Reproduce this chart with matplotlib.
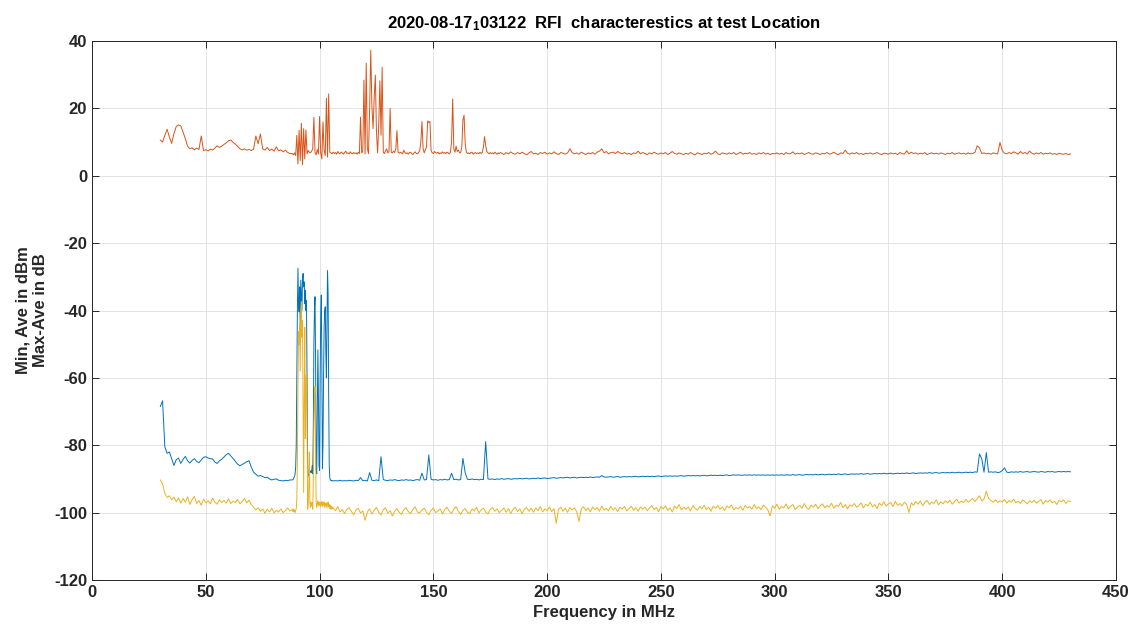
import numpy as np
import matplotlib
matplotlib.use("Agg")
import matplotlib.pyplot as plt

plt.rcParams["font.family"] = "Liberation Sans"
plt.rcParams["font.weight"] = "bold"
plt.rcParams["axes.unicode_minus"] = False
plt.rcParams["mathtext.fontset"] = "custom"
plt.rcParams["mathtext.rm"] = "Liberation Sans:bold"
plt.rcParams["mathtext.it"] = "Liberation Sans:bold"
plt.rcParams["mathtext.bf"] = "Liberation Sans:bold"
plt.rcParams["mathtext.default"] = "rm"

TITLE = "2020-08-17$_{1}$03122  RFI  characterestics at test Location"

# --- spectrum sweeps, each stored as segments (start MHz, step MHz, levels) ---

# average level, dBm
ave_low = [
    -68.5, -66.8, -80.5, -82.4, -82.0, -84.0, -86.0, -84.3, -83.8, -85.4,
    -84.2, -83.3, -84.6, -85.3, -84.5, -84.0, -84.8, -85.2, -84.4, -83.6,
    -83.4, -83.8, -84.0, -84.1, -85.0, -85.4, -84.6, -84.2, -83.5, -82.8,
    -82.4, -83.2, -83.9, -84.8, -85.6, -86.1, -85.7, -85.3, -84.9, -84.6,
    -86.5, -88.0, -88.6, -89.2, -89.0, -89.3, -89.6, -89.5, -90.0, -90.3,
    -90.1, -90.0, -90.4, -90.5, -90.6, -90.4, -90.5, -90.3,
]
ave_fm = [
    -90.3, -90.2, -90.0, -89.6, -89.2, -88.5, -86.5, -80.0,
    -60.0, -40.0, -27.5, -38.0, -40.4, -33.0, -45.0, -31.0,
    -35.4, -40.0, -31.0, -29.0, -33.0, -31.5, -38.0, -34.0,
    -40.0, -37.0, -60.0, -85.0, -88.8, -89.2, -88.6, -87.8,
    -88.0, -87.5, -88.2, -86.0, -88.5, -75.0, -50.0, -40.0,
    -35.9, -55.0, -87.0, -88.5, -70.0, -51.7, -65.0, -86.0,
    -87.5, -60.0, -42.0, -35.4, -55.0, -87.0, -80.0, -60.0,
    -45.0, -40.0, -38.9, -52.0, -60.0, -45.0, -28.2, -35.0,
    -65.0, -86.0, -89.8, -90.2, -90.5, -90.4, -90.6, -90.5,
]
ave_high = [
    -90.6, -90.5, -90.6, -90.4, -90.6, -90.5, -90.6, -90.4, -90.5, -90.6,
    -90.4, -90.5, -89.6, -90.5, -90.4, -90.6, -88.1, -90.4, -90.5, -90.3,
    -90.5, -83.4, -90.2, -90.4, -90.5, -90.3, -90.4, -90.2, -90.4, -90.5,
    -90.3, -90.4, -90.2, -90.4, -90.3, -90.5, -90.3, -90.2, -90.4, -88.3,
    -90.3, -90.2, -82.9, -90.1, -90.3, -90.2, -90.4, -90.2, -90.3, -90.1,
    -90.3, -90.2, -88.3, -90.2, -90.1, -90.3, -90.2, -83.9, -88.2, -90.1,
    -90.2, -90.0, -90.2, -90.1, -90.3, -90.1, -90.2, -78.9, -90.0, -90.1,
    -90.0, -90.2, -90.0, -90.1, -89.9, -90.1, -90.0, -89.9, -90.1, -90.0,
    -89.9, -90.0, -89.8, -90.0, -89.9, -89.8, -90.0, -89.9, -89.8, -89.9,
    -89.7, -89.9, -89.8, -89.7, -89.9, -89.8, -89.7, -89.6, -89.8, -89.7,
    -89.6, -89.7, -89.6, -89.5, -89.7, -89.6, -89.5, -89.7, -89.6, -89.5,
    -89.6, -89.5, -89.6, -89.4, -89.6, -89.5, -89.4, -89.5, -89.0, -89.4,
    -89.5, -89.4, -89.3, -89.5, -89.4, -89.3, -89.5, -89.4, -89.3, -89.4,
    -89.3, -89.4, -89.3, -89.2, -89.4, -89.3, -89.2, -89.3, -89.2, -89.3,
    -89.2, -89.3, -89.2, -89.1, -89.3, -89.2, -89.1, -89.2, -89.1, -89.2,
    -89.1, -89.2, -89.1, -89.0, -89.2, -89.1, -89.0, -89.1, -89.0, -89.1,
    -89.0, -89.1, -89.0, -88.9, -89.1, -89.0, -88.9, -89.0, -88.9, -89.0,
    -88.9, -89.0, -88.9, -88.8, -89.0, -88.9, -88.8, -88.9, -88.8, -88.9,
    -88.9, -88.8, -88.9, -88.8, -88.9, -88.8, -88.9, -88.8, -88.9, -88.8,
    -88.9, -88.8, -88.9, -88.8, -88.9, -88.8, -88.9, -88.8, -88.9, -88.8,
    -88.8, -88.9, -88.7, -88.9, -88.8, -88.7, -88.9, -88.8, -88.7, -88.8,
    -88.7, -88.8, -88.6, -88.8, -88.7, -88.6, -88.8, -88.7, -88.6, -88.7,
    -88.6, -88.7, -88.5, -88.7, -88.6, -88.5, -88.7, -88.6, -88.5, -88.6,
    -88.5, -88.6, -88.4, -88.6, -88.5, -88.4, -88.6, -88.5, -88.4, -88.5,
    -88.4, -88.5, -88.3, -88.5, -88.4, -88.3, -88.5, -88.4, -88.3, -88.4,
    -88.3, -88.4, -88.2, -88.4, -88.3, -88.2, -88.4, -88.3, -88.2, -88.3,
    -88.2, -88.3, -88.1, -88.3, -88.2, -88.1, -88.3, -88.2, -88.1, -88.2,
    -88.1, -88.2, -88.0, -88.2, -88.1, -88.0, -88.2, -88.1, -88.0, -88.1,
    -88.0, -88.1, -87.9, -88.0, -82.6, -84.0, -88.0, -82.2, -88.0, -87.9,
    -88.0, -87.9, -88.1, -88.0, -87.5, -86.7, -88.0, -88.1, -87.9, -88.0,
    -87.9, -88.0, -87.8, -88.0, -87.9, -87.8, -88.0, -87.9, -87.8, -87.9,
    -88.0, -87.8, -87.9, -88.0, -87.8, -87.9, -87.8, -88.0, -87.9, -87.8,
    -87.9, -87.8, -87.9, -87.8, -87.9,
]

# max minus average, dB
maxave_low = [
    10.6, 10.0, 12.0, 13.8, 11.5, 9.6, 12.5, 14.6, 15.1, 14.8,
    13.0, 11.0, 8.8, 8.0, 8.3, 7.7, 8.2, 7.8, 11.8, 7.5,
    7.7, 7.4, 7.9, 7.6, 8.2, 8.9, 8.4, 8.8, 9.3, 9.8,
    10.4, 10.6, 9.9, 9.4, 8.7, 8.0, 7.7, 8.0, 7.6, 7.8,
    7.5, 7.9, 11.8, 9.5, 12.4, 8.0, 7.6, 8.4, 7.5, 7.9,
    7.3, 8.6, 7.4, 7.7, 7.1, 7.6, 6.9, 6.6,
]
maxave_fm = [
    6.6, 6.2, 6.8, 6.0, 12.0, 3.5, 13.5, 4.5, 15.6, 3.3,
    14.0, 5.0, 13.6, 6.5, 7.5, 7.0, 6.8, 7.3, 8.0, 17.4,
    7.0, 6.2, 7.8, 6.5, 17.6, 6.8, 5.0, 16.0, 7.5, 6.0,
    23.0, 5.5, 24.3, 7.0, 6.8, 6.5, 7.0, 6.6, 6.9, 6.4,
    7.2, 6.7, 6.5, 7.0, 6.8, 6.4, 6.9, 7.3, 6.6, 6.8,
    6.5, 7.1, 6.7, 6.5, 6.9, 6.6, 6.8, 6.4, 7.0, 6.6,
    17.4, 6.8, 7.2, 28.4, 6.5, 33.4, 8.0, 6.6, 20.0, 37.3,
    20.5, 14.0, 23.0, 29.9, 13.0, 6.8, 15.0, 28.2, 12.0, 32.2,
    7.0, 6.6, 7.4, 8.0, 6.8, 7.2, 20.0, 7.0, 6.8, 7.3,
    6.9, 8.0, 13.4, 7.0, 6.7, 7.0, 6.8, 6.5, 7.6, 6.9,
    6.6, 6.8, 6.4, 6.9, 7.0, 6.5, 6.3, 6.8, 7.1, 6.6,
    6.5, 6.9, 7.4, 10.0, 16.1, 8.0, 6.8, 7.8, 8.5, 16.3,
    15.8, 16.1, 7.5, 6.8, 6.6, 7.2, 6.9, 6.7, 7.0, 6.5,
    6.8, 6.6, 7.1, 6.7, 6.9, 6.6, 7.0, 6.8, 6.5, 7.0,
    10.0, 22.8, 8.0, 7.0, 8.8, 7.2, 7.6, 6.8, 6.9, 8.5,
    16.5, 18.0, 9.5, 7.0, 6.6, 6.8, 6.5, 6.9, 7.0, 6.4,
    6.7, 6.9, 6.6, 6.8, 6.5, 7.0, 6.6, 6.9, 8.5, 11.6,
    9.0, 7.2, 6.8, 6.5, 6.9, 6.6, 6.8, 6.5, 7.0, 6.7,
    6.4, 6.8, 6.6, 6.9,
]
maxave_high = [
    6.7, 6.3, 6.9, 6.5, 7.1, 6.6, 6.4, 6.9, 6.5, 7.0,
    6.6, 6.2, 6.8, 7.2, 6.5, 6.7, 6.3, 6.9, 6.6, 7.0,
    6.4, 6.8, 6.5, 7.1, 6.6, 6.3, 6.9, 6.7, 6.4, 6.8,
    8.0, 6.9, 6.5, 6.8, 6.4, 7.0, 6.6, 6.3, 6.8, 6.5,
    6.9, 6.4, 7.0, 7.3, 8.0, 6.8, 7.2, 6.5, 6.9, 7.0,
    6.6, 7.2, 6.8, 6.5, 6.9, 6.4, 6.7, 6.3, 6.8, 6.6,
    7.3, 6.5, 6.9, 6.6, 6.3, 6.8, 6.5, 7.0, 6.6, 6.4,
    6.8, 6.5, 6.9, 6.3, 6.7, 7.2, 6.6, 6.4, 6.8, 6.5,
    6.3, 6.7, 6.4, 6.9, 6.5, 6.2, 6.8, 6.6, 6.3, 6.7,
    6.5, 6.9, 6.4, 6.7, 7.3, 6.5, 6.3, 6.8, 6.6, 6.4,
    6.8, 6.5, 6.9, 6.3, 6.6, 7.0, 6.4, 6.7, 6.5, 6.9,
    6.4, 6.6, 6.3, 6.8, 6.5, 6.9, 6.4, 6.7, 6.3, 6.6,
    6.5, 6.8, 6.4, 6.7, 6.3, 6.9, 6.5, 6.6, 7.1, 6.4,
    6.7, 6.5, 6.8, 6.3, 6.6, 6.9, 6.5, 6.4, 6.8, 6.6,
    6.3, 6.7, 6.5, 6.9, 6.4, 6.6, 7.0, 6.5, 6.3, 6.8,
    6.6, 7.6, 6.7, 6.4, 6.8, 6.5, 6.9, 6.4, 6.6, 6.3,
    6.7, 6.5, 6.8, 6.4, 6.6, 6.9, 6.5, 6.3, 6.7, 6.6,
    6.4, 6.8, 6.5, 6.7, 6.3, 6.9, 6.6, 6.4, 7.4, 6.5,
    7.0, 6.6, 6.8, 6.4, 6.7, 6.5, 6.9, 6.3, 6.6, 6.8,
    6.5, 6.7, 6.4, 6.8, 6.6, 6.3, 6.7, 6.5, 6.9, 6.4,
    6.6, 6.8, 6.5, 6.7, 6.4, 6.8, 6.5, 6.6, 6.9, 8.9,
    8.3, 6.6, 6.8, 6.5, 6.7, 6.4, 6.8, 6.6, 6.5, 9.9,
    7.5, 6.7, 6.5, 6.9, 6.6, 7.1, 6.8, 6.4, 7.2, 6.6,
    6.9, 6.5, 7.3, 6.7, 6.4, 6.8, 6.5, 6.9, 6.4, 6.7,
    6.5, 6.8, 6.4, 6.6, 6.3, 6.7, 6.5, 6.4, 6.6, 6.3,
    6.5,
]

# minimum level, dBm
min_low = [
    -90.3, -91.5, -94.3, -95.5, -95.0, -96.2, -95.4, -96.8, -95.6, -97.2,
    -95.8, -96.9, -95.3, -97.6, -96.1, -95.2, -97.3, -96.4, -97.8, -96.0,
    -97.1, -96.5, -97.4, -95.7, -96.9, -97.5, -96.2, -97.0, -96.4, -97.2,
    -95.9, -97.3, -96.6, -97.0, -96.1, -97.4, -96.7, -95.8, -97.1, -96.3,
    -97.6, -98.4, -99.2, -98.5, -99.6, -98.9, -100.2, -99.0, -99.8, -98.7,
    -100.1, -99.3, -99.8, -98.9, -100.0, -99.4, -98.6, -99.5,
]
min_fm = [
    -99.1, -99.8, -98.9, -99.6, -99.2, -100.0, -99.4, -98.8,
    -96.0, -85.0, -62.0, -46.3, -50.0, -44.0, -58.0, -40.0,
    -37.4, -48.0, -43.0, -70.0, -94.0, -66.0, -45.0, -78.0,
    -60.0, -58.6, -75.0, -99.0, -97.5, -92.0, -82.0, -97.0,
    -98.5, -96.8, -98.0, -97.1, -99.0, -90.0, -75.0, -66.0,
    -62.6, -80.0, -97.0, -98.5, -97.2, -96.5, -98.0, -97.0,
    -97.8, -96.9, -98.3, -97.4, -96.6, -98.1, -97.0, -97.9,
    -96.8, -98.4, -97.3, -98.0, -97.1, -98.6, -97.5, -96.9,
    -98.2, -97.6, -98.8, -97.8, -99.0, -98.1, -98.9, -98.4,
]
min_high = [
    -98.6, -99.4, -98.2, -99.8, -99.1, -100.3, -99.0, -98.5, -99.7, -100.6,
    -99.2, -98.7, -100.1, -99.5, -102.3, -99.8, -98.9, -100.4, -99.3, -98.4,
    -99.9, -100.7, -99.1, -98.6, -100.2, -99.4, -101.0, -99.6, -98.8, -99.9,
    -100.5, -99.2, -98.5, -99.7, -100.3, -99.0, -98.3, -99.8, -100.1, -99.2,
    -98.7, -99.9, -100.6, -99.3, -98.6, -100.0, -99.5, -98.9, -100.4, -99.1,
    -98.4, -99.6, -100.2, -99.0, -98.2, -99.7, -100.5, -99.3, -98.8, -99.9,
    -100.3, -98.9, -99.5, -98.4, -100.1, -99.2, -98.7, -99.8, -100.4, -99.0,
    -98.5, -99.6, -98.9, -100.0, -99.3, -98.6, -99.9, -98.8, -100.2, -99.1,
    -98.4, -99.7, -98.9, -100.3, -99.0, -98.5, -99.6, -98.7, -99.9, -98.6,
    -99.4, -98.2, -99.8, -98.9, -99.5, -98.3, -99.7, -98.8, -103.2, -99.0,
    -98.4, -99.6, -98.7, -99.9, -98.5, -99.2, -98.6, -99.7, -102.6, -98.9,
    -98.2, -99.4, -98.6, -99.8, -98.3, -99.1, -98.5, -99.6, -98.0, -99.3,
    -98.7, -99.5, -98.1, -99.2, -98.6, -99.7, -98.4, -99.0, -98.2, -99.5,
    -98.8, -98.1, -99.3, -98.5, -99.6, -98.3, -99.0, -98.4, -99.4, -98.6,
    -97.9, -99.1, -98.5, -99.7, -98.2, -98.9, -98.0, -99.3, -98.6, -99.8,
    -98.1, -98.8, -97.6, -99.2, -98.4, -99.0, -98.3, -99.5, -98.0, -98.7,
    -99.3, -98.2, -98.9, -97.8, -99.1, -98.4, -99.6, -98.1, -98.7, -97.9,
    -99.0, -98.3, -99.4, -98.0, -98.6, -97.7, -99.2, -98.5, -98.9, -98.1,
    -99.3, -97.9, -98.6, -98.2, -99.0, -97.6, -98.8, -98.3, -99.1, -97.8,
    -98.4, -99.2, -101.0, -98.0, -98.7, -97.5, -99.0, -98.2, -98.6, -97.4,
    -98.9, -98.1, -97.6, -99.1, -98.3, -97.9, -98.7, -97.3, -98.5, -99.0,
    -97.8, -98.4, -97.5, -98.8, -98.0, -97.4, -98.6, -97.9, -98.3, -97.2,
    -98.7, -97.8, -98.2, -97.0, -98.5, -97.6, -98.9, -97.7, -98.1, -97.3,
    -98.4, -97.9, -97.1, -98.6, -97.5, -98.0, -96.9, -98.3, -97.6, -98.8,
    -97.2, -97.9, -96.8, -98.1, -97.4, -97.0, -98.2, -96.6, -97.8, -97.3,
    -98.0, -96.9, -97.6, -100.0, -97.1, -97.8, -96.7, -97.5, -96.5, -97.9,
    -97.0, -96.4, -97.6, -96.9, -97.3, -96.2, -97.7, -96.8, -97.4, -96.5,
    -97.1, -96.3, -97.5, -96.7, -96.0, -97.2, -96.6, -97.0, -96.1, -96.9,
    -96.4, -95.8, -96.7, -95.9, -95.0, -96.5, -96.0, -93.6, -95.8, -96.4,
    -96.9, -96.2, -97.0, -96.5, -96.8, -96.1, -97.2, -96.4, -96.9, -96.0,
    -97.1, -96.6, -97.3, -96.2, -96.8, -97.4, -96.5, -97.0, -96.3, -97.2,
    -96.7, -96.1, -97.5, -96.4, -96.9, -96.2, -97.1, -96.6, -97.6, -96.3,
    -96.8, -96.2, -97.3, -96.5, -96.7,
]


def sweep(*segments):
    """Join (start, step, levels) segments into one frequency/level trace."""
    freqs, levels = [], []
    for start, step, vals in segments:
        freqs.append(start + step * np.arange(len(vals)))
        levels.append(np.asarray(vals, dtype=float))
    return np.concatenate(freqs), np.concatenate(levels)


f_ave, ave_dbm = sweep((30, 1.0, ave_low), (88, 0.25, ave_fm), (106, 1.0, ave_high))
f_mx, maxave_db = sweep((30, 1.0, maxave_low), (88, 0.5, maxave_fm), (180, 1.0, maxave_high))
f_min, min_dbm = sweep((30, 1.0, min_low), (88, 0.25, min_fm), (106, 1.0, min_high))

fig = plt.figure(figsize=(11.36, 6.32), dpi=100)
ax = fig.add_axes([0.081, 0.0823, 0.9014, 0.8528])

ax.plot(f_ave, ave_dbm, color="#0072BD", lw=0.7)
ax.plot(f_mx, maxave_db, color="#D95319", lw=0.7)
ax.plot(f_min, min_dbm, color="#EDB120", lw=0.7)

ax.set_xlim(0, 450)
ax.set_ylim(-120, 40)
ax.set_xticks(np.arange(0, 451, 50))
ax.set_yticks(np.arange(-120, 41, 20))
ax.grid(True, color="#e3e3e3", lw=0.7)
ax.set_axisbelow(True)
for s in ax.spines.values():
    s.set_color("#262626")
    s.set_linewidth(0.7)
ax.tick_params(direction="in", top=True, right=True, length=5, width=0.7,
               colors="#262626", labelsize=12)
for lab in ax.get_xticklabels() + ax.get_yticklabels():
    lab.set_fontweight("bold")

ax.set_title(TITLE, fontsize=12, fontweight="bold", color="black", pad=9)
ax.set_xlabel("Frequency in MHz", fontsize=12, fontweight="bold", color="#262626")
ax.set_ylabel("Min, Ave in dBm\nMax-Ave in dB", fontsize=12, fontweight="bold",
              color="#262626", linespacing=1.25)

fig.savefig("out.png", dpi=100)
